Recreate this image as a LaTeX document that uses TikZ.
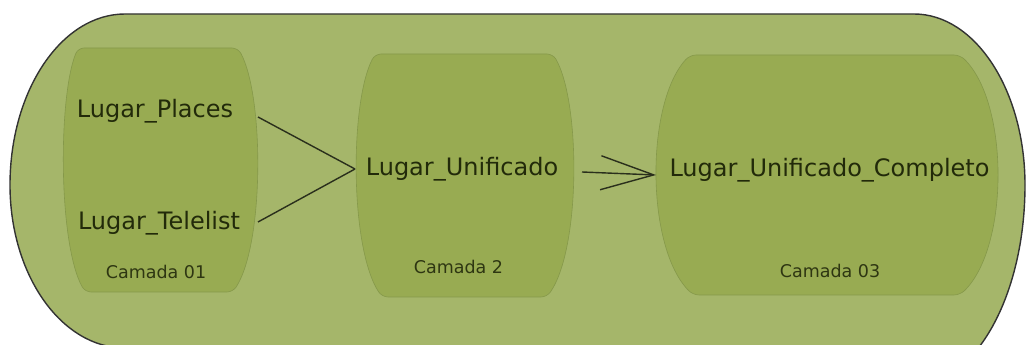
\documentclass[tikz,border=0pt]{standalone}
\usepackage{fontspec}
\setmainfont{DejaVu Sans}
\usetikzlibrary{arrows.meta}
\definecolor{outerfill}{HTML}{A5B66A}
\definecolor{innerfill}{HTML}{98AB52}
\definecolor{innerline}{HTML}{85984A}
\definecolor{txt}{HTML}{222A0A}
\definecolor{smalltxt}{HTML}{2E3612}
\definecolor{conn}{HTML}{2A2F1C}
\tikzset{
  outershape/.style={fill=outerfill, draw=black!80, line width=1.4pt},
  barrel/.style={fill=innerfill, draw=innerline, line width=0.6pt, rounded corners=6pt},
  bigtext/.style={anchor=base, inner sep=0pt, text=txt, font=\fontsize{24}{28}\selectfont},
  smalltext/.style={anchor=base, inner sep=0pt, text=smalltxt, font=\fontsize{17.5}{21}\selectfont},
  connector/.style={draw=conn, line width=1.4pt},
}
\begin{document}
\begin{tikzpicture}[x=1pt,y=1pt]
\useasboundingbox (0,0) rectangle (1026,345);
\clip (0,0) rectangle (1026,345);
% outer stadium
\path[outershape] (125,331) -- (914,331)
  arc[start angle=90, end angle=0, x radius=111, y radius=171]
  arc[start angle=0, end angle=-90, x radius=111, y radius=200]
  -- (125,-3)
  arc[start angle=270, end angle=180, x radius=115, y radius=163]
  arc[start angle=180, end angle=90, x radius=115, y radius=171]
  -- cycle;
% layer 1
\path[barrel] (160,297) -- (238,297)
  .. controls (264.2,248) and (264.2,102) .. (233,53)
  -- (85,53)
  .. controls (58.2,102) and (58.2,248) .. (78,297) -- cycle;
% layer 2
\path[barrel] (460,291) -- (553,291)
  .. controls (580.7,242) and (580.7,97) .. (547,48)
  -- (382,48)
  .. controls (349.8,97) and (349.8,242) .. (375,291) -- cycle;
% layer 3
\path[barrel] (820,290) -- (960,290)
  .. controls (1009.3,242) and (1009.3,98) .. (960,50)
  -- (693,50)
  .. controls (645.5,98) and (645.5,242) .. (690,290) -- cycle;
% texts
\node[bigtext] (places) at (155,227) {Lugar\_Places};
\node[bigtext] (telelist) at (159,115) {Lugar\_Telelist};
\node[smalltext] (cam1) at (156,66) {Camada 01};
\node[bigtext] (unif) at (462,169) {Lugar\_Unificado};
\node[smalltext] (cam2) at (458.5,71) {Camada 2};
\node[bigtext] (compl) at (829.5,168) {Lugar\_Unificado\_Completo};
\node[smalltext] (cam3) at (830,67) {Camada 03};
% connectors
\coordinate (placesout) at (258,228);
\coordinate (telout) at (258,123);
\coordinate (unifin) at (355,176);
\coordinate (unifout) at (582,173);
\coordinate (complin) at (656,170);
\draw[connector] (placesout) -- (unifin);
\draw[connector] (telout) -- (unifin);
\draw[connector, -{Straight Barb[length=53pt, width=34pt, line width=1.4pt]}] (unifout) -- (complin);
\end{tikzpicture}
\end{document}
